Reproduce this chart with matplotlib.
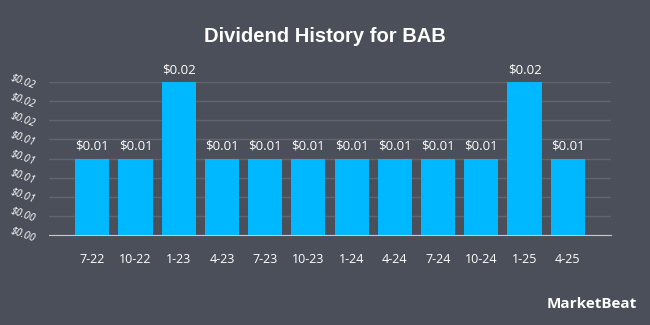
import matplotlib
matplotlib.use("Agg")
import matplotlib.pyplot as plt
import matplotlib.transforms as mtransforms

quarters = ["7-22", "10-22", "1-23", "4-23", "7-23", "10-23", "1-24",
            "4-24", "7-24", "10-24", "1-25", "4-25"]
dividends = [0.01, 0.01, 0.02, 0.01, 0.01, 0.01, 0.01, 0.01, 0.01, 0.01, 0.02, 0.01]
bar_labels = ["$0.01", "$0.01", "$0.02", "$0.01", "$0.01", "$0.01", "$0.01",
              "$0.01", "$0.01", "$0.01", "$0.02", "$0.01"]
y_ticks = [0, 0.0025, 0.005, 0.0075, 0.01, 0.0125, 0.015, 0.0175, 0.02]
y_tick_labels = ["$0.00", "$0.00", "$0.01", "$0.01", "$0.01", "$0.01",
                 "$0.02", "$0.02", "$0.02"]

bg = "#4a4f59"
bar_color = "#00b8ff"
txt = "#ffffff"

plt.rcParams["font.family"] = ["Open Sans", "DejaVu Sans"]

fig = plt.figure(figsize=(6.5, 3.25), dpi=100, facecolor=bg)
ax = fig.add_axes([49 / 650, 1 - 235 / 325, (611 - 49) / 650, (235 - 82) / 325])
ax.set_facecolor(bg)

x = list(range(len(quarters)))
ax.bar(x, dividends, width=0.79, color=bar_color, zorder=3)
for xi, v, lab in zip(x, dividends, bar_labels):
    ax.annotate(lab, (xi, v), xytext=(0, 4), textcoords="offset points",
                ha="center", va="bottom", color=txt, fontsize=9.5)

ax.set_xlim(-1, 12)
ax.set_ylim(0, 0.02)
ax.set_xticks(x)
ax.set_xticklabels(quarters, color=txt, fontsize=9)
ax.set_yticks(y_ticks)
ax.set_yticklabels(y_tick_labels, color=txt, fontsize=7.5, style="italic",
                   rotation=-20)
ax.tick_params(axis="both", length=0)
ax.tick_params(axis="x", pad=13)
ax.tick_params(axis="y", pad=9)
shift = mtransforms.ScaledTranslation(0, 6 / 100, fig.dpi_scale_trans)
for t in ax.get_yticklabels():
    t.set_transform(t.get_transform() + shift)

ax.grid(axis="y", color="#60656e", linewidth=1, zorder=0)
for s in ["top", "right", "left"]:
    ax.spines[s].set_visible(False)
ax.spines["bottom"].set_color("#c8c8c8")
ax.spines["bottom"].set_zorder(4)

fig.text(0.5, 1 - 37 / 325, "Dividend History for BAB", ha="center", va="center",
         color=txt, fontsize=14.5, fontweight="bold", family="Liberation Sans")
fig.text(637 / 650, 1 - 304 / 325, "MarketBeat", ha="right", va="center",
         color=txt, fontsize=11, fontweight="bold")

fig.savefig("out.png", dpi=100, facecolor=bg)
